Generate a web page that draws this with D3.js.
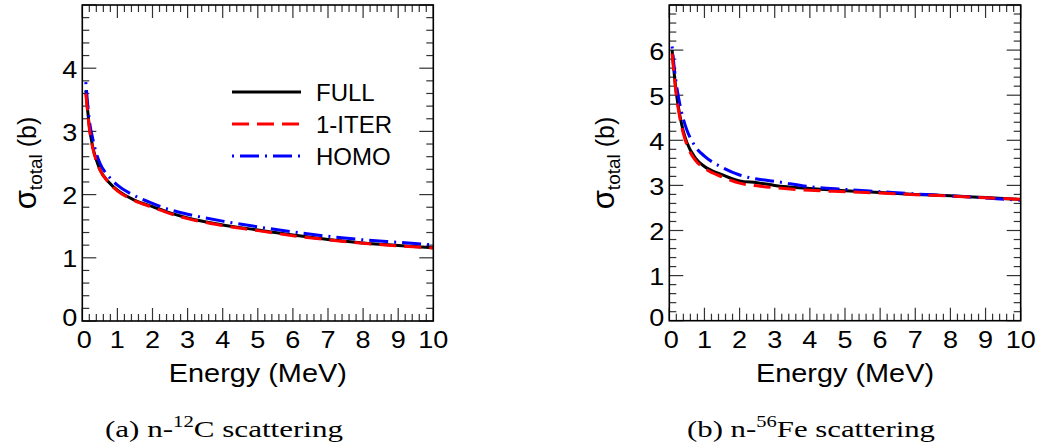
<!DOCTYPE html>
<html><head><meta charset="utf-8">
<script src="https://cdn.jsdelivr.net/npm/d3@7"></script>
<style>
body{margin:0;background:#fff;}
svg{display:block;}
text{font-family:"Liberation Sans",Arial,sans-serif;fill:#000;}
.cap{font-family:"Liberation Serif","DejaVu Serif",serif;}
</style></head>
<body>
<svg id="chart" width="1040" height="446"></svg>
<script>
// ---- data ----
const energyC = [0.1,0.15,0.2,0.3,0.4,0.5,0.75,1,1.5,2,2.5,3,4,5,6,7,8,9,10];
const fullC   = [3.65,3.35,3.08,2.75,2.55,2.40,2.20,2.07,1.91,1.81,1.71,1.63,1.52,1.44,1.36,1.29,1.235,1.195,1.16];
const iterC   = [3.60,3.32,3.05,2.73,2.53,2.39,2.19,2.06,1.90,1.80,1.70,1.62,1.51,1.43,1.35,1.285,1.23,1.19,1.155];
const homoC   = [3.78,3.45,3.18,2.88,2.65,2.50,2.29,2.15,1.98,1.86,1.76,1.69,1.58,1.49,1.41,1.34,1.285,1.245,1.205];

const energyFe = [0.08,0.15,0.2,0.3,0.4,0.5,0.75,1,1.5,2,2.5,3,4,5,6,7,8,9,10];
const fullFe   = [6.0,5.4,5.05,4.55,4.2,3.95,3.6,3.42,3.24,3.10,3.06,3.00,2.93,2.88,2.84,2.80,2.77,2.73,2.69];
const iterFe   = [5.92,5.35,5.0,4.5,4.15,3.9,3.55,3.38,3.19,3.05,2.99,2.95,2.89,2.86,2.83,2.795,2.765,2.725,2.69];
const homoFe   = [6.08,5.55,5.25,4.8,4.47,4.23,3.85,3.65,3.40,3.23,3.14,3.09,2.97,2.91,2.86,2.81,2.77,2.72,2.67];

const xTicks = [0,1,2,3,4,5,6,7,8,9,10];
const yTicksC = [0,1,2,3,4];
const yTicksFe = [0,1,2,3,4,5,6];
const seriesNames = ["FULL","1-ITER","HOMO"];
const captions = [["(a) n-","12","C scattering"],["(b) n-","56","Fe scattering"]];

// ---- layout ----
const svg = d3.select("#chart");
const styles = [
  {color:"#000", dash:null},
  {color:"#ff0000", dash:"17,8"},
  {color:"#0000ff", dash:"2,6,19,6"}
];

const panels = [
  {x0:82.3, x1:433.3, y0:5, y1:321, ymax:5, yTicks:yTicksC, E:energyC, s:[fullC,iterC,homoC], titleX:36, legend:true, cap:captions[0], capX:105, capW:238},
  {x0:669.3, x1:1020.7, y0:5, y1:320.7, ymax:7, yTicks:yTicksFe, E:energyFe, s:[fullFe,iterFe,homoFe], titleX:614, legend:false, cap:captions[1], capX:687, capW:248}
];

function stretch(sel, k){
  sel.each(function(){
    const w = this.getComputedTextLength();
    d3.select(this).attr("textLength", w*k).attr("lengthAdjust","spacingAndGlyphs");
  });
}

panels.forEach((p,pi)=>{
  const x = d3.scaleLinear().domain([0,10]).range([p.x0,p.x1]);
  const y = d3.scaleLinear().domain([0,p.ymax]).range([p.y1,p.y0]);
  const g = svg.append("g");

  const cid = "clip"+pi;
  svg.append("clipPath").attr("id",cid).append("rect")
    .attr("x",p.x0).attr("y",p.y0).attr("width",p.x1-p.x0).attr("height",p.y1-p.y0);

  // ticks (major + minor, all four sides, pointing inward)
  const xMinor = d3.range(0,10.001,0.2);
  const yMinor = d3.range(0,p.ymax+0.001,0.2);
  const tk = g.append("g").attr("stroke","#333").attr("stroke-width",1.2);
  xMinor.forEach(v=>{
    const major = Math.abs(v-Math.round(v))<1e-6;
    const L = major?13:7;
    tk.append("line").attr("x1",x(v)).attr("x2",x(v)).attr("y1",p.y1).attr("y2",p.y1-L);
    tk.append("line").attr("x1",x(v)).attr("x2",x(v)).attr("y1",p.y0).attr("y2",p.y0+L);
  });
  yMinor.forEach(v=>{
    const major = Math.abs(v-Math.round(v))<1e-6;
    const L = major?14:7;
    tk.append("line").attr("y1",y(v)).attr("y2",y(v)).attr("x1",p.x0).attr("x2",p.x0+L);
    tk.append("line").attr("y1",y(v)).attr("y2",y(v)).attr("x1",p.x1).attr("x2",p.x1-L);
  });

  // curves
  const line = d3.line().x(d=>x(d[0])).y(d=>y(d[1])).curve(d3.curveMonotoneX);
  const cg = g.append("g").attr("clip-path",`url(#${cid})`);
  [0,2,1].forEach(i=>{
    const pts = p.E.map((e,k)=>[e,p.s[i][k]]);
    cg.append("path").attr("d",line(pts)).attr("fill","none")
      .attr("stroke",styles[i].color).attr("stroke-width",3)
      .attr("stroke-dasharray",styles[i].dash);
  });

  // frame
  g.append("rect").attr("x",p.x0).attr("y",p.y0).attr("width",p.x1-p.x0).attr("height",p.y1-p.y0)
    .attr("fill","none").attr("stroke","#000").attr("stroke-width",1.6);

  // tick labels
  const xl = g.selectAll(".xl").data(xTicks).join("text").attr("class","xl")
    .attr("x",v=>x(v)+(v===0?2:0)).attr("y",348).attr("text-anchor","middle")
    .attr("font-size",23.5).text(v=>v);
  stretch(xl,1.15);
  const yl = g.selectAll(".yl").data(p.yTicks).join("text").attr("class","yl")
    .attr("x",p.x0-5).attr("y",v=>y(v)+(v===0?-3:1)).attr("dy","0.36em").attr("text-anchor","end")
    .attr("font-size",23.5).text(v=>v);
  stretch(yl,1.15);

  // axis titles
  const xt = g.append("text").attr("x",(p.x0+p.x1)/2).attr("y",382).attr("text-anchor","middle")
    .attr("font-size",25.5).text("Energy (MeV)");
  xt.attr("textLength",178).attr("lengthAdjust","spacingAndGlyphs");
  const yt = g.append("text").attr("transform",`translate(${p.titleX},163) rotate(-90)`)
    .attr("text-anchor","middle").attr("font-size",25);
  yt.append("tspan").attr("font-size",31).text("σ");
  yt.append("tspan").attr("font-size",19).attr("dy",6).text("total");
  yt.append("tspan").attr("dy",-6).text(" (b)");

  // legend
  if(p.legend){
    seriesNames.forEach((n,i)=>{
      const ly = 92 + i*32;
      g.append("line").attr("x1",232).attr("x2",301).attr("y1",ly).attr("y2",ly)
        .attr("stroke",styles[i].color).attr("stroke-width",3).attr("stroke-dasharray",styles[i].dash);
      g.append("text").attr("x",316).attr("y",ly+8.5).attr("font-size",24).text(n);
    });
  }

  // caption
  const ct = svg.append("text").attr("class","cap").attr("x",p.capX).attr("y",437)
    .attr("font-size",24).attr("textLength",p.capW).attr("lengthAdjust","spacingAndGlyphs");
  ct.append("tspan").text(p.cap[0]);
  ct.append("tspan").attr("font-size",16).attr("dy",-10).text(p.cap[1]);
  ct.append("tspan").attr("dy",10).text(p.cap[2]);
});
</script>
</body></html>
